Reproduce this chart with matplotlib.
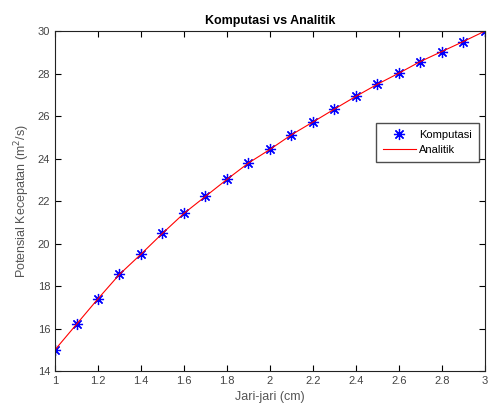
import matplotlib
matplotlib.use("Agg")
import matplotlib.pyplot as plt
import numpy as np

jari = [1.0, 1.1, 1.2, 1.3, 1.4, 1.5, 1.6, 1.7, 1.8, 1.9, 2.0,
        2.1, 2.2, 2.3, 2.4, 2.5, 2.6, 2.7, 2.8, 2.9, 3.0]
komputasi = [15.0, 16.2, 17.4, 18.55, 19.5, 20.48, 21.42, 22.22, 23.02, 23.79, 24.43,
             25.12, 25.72, 26.33, 26.93, 27.5, 28.02, 28.57, 29.04, 29.51, 30.0]
analitik = komputasi

plt.rcParams['font.family'] = ['Liberation Sans', 'DejaVu Sans']

fig = plt.figure(figsize=(4.89, 4.15), dpi=100)
ax = fig.add_axes([0.1125, 0.106, 0.879, 0.819])
ax.plot(jari, komputasi, linestyle='none', marker=(8, 2, 0), color='blue',
        markersize=8, markeredgewidth=0.9, label='Komputasi')
ax.plot(jari, analitik, '-', color='red', linewidth=0.8, label='Analitik')
ax.set_xlim(1, 3)
ax.set_ylim(14, 30)
ax.set_xticks(np.arange(1, 3.01, 0.2))
ax.set_xticklabels(['1', '1.2', '1.4', '1.6', '1.8', '2', '2.2', '2.4', '2.6', '2.8', '3'])
ax.set_yticks(np.arange(14, 30.1, 2))
ax.tick_params(direction='in', top=True, right=True, labelsize=8, labelcolor='#444444', length=4)
for s in ax.spines.values():
    s.set_linewidth(0.8)
    s.set_color('#222222')
ax.set_title('Komputasi vs Analitik', fontsize=9, fontweight='bold', pad=5)
ax.set_xlabel('Jari-jari (cm)', fontsize=9, color='#555555')
ax.set_ylabel('Potensial Kecepatan (m$^2$/s)', fontsize=9, color='#555555')
ax.legend(loc='upper right', bbox_to_anchor=(0.986, 0.729), fontsize=8, frameon=True,
          fancybox=False, edgecolor='#222222', borderpad=0.6, handlelength=3.0,
          handletextpad=0.3, labelspacing=0.45, borderaxespad=0)
fig.savefig('out.png', dpi=100)
